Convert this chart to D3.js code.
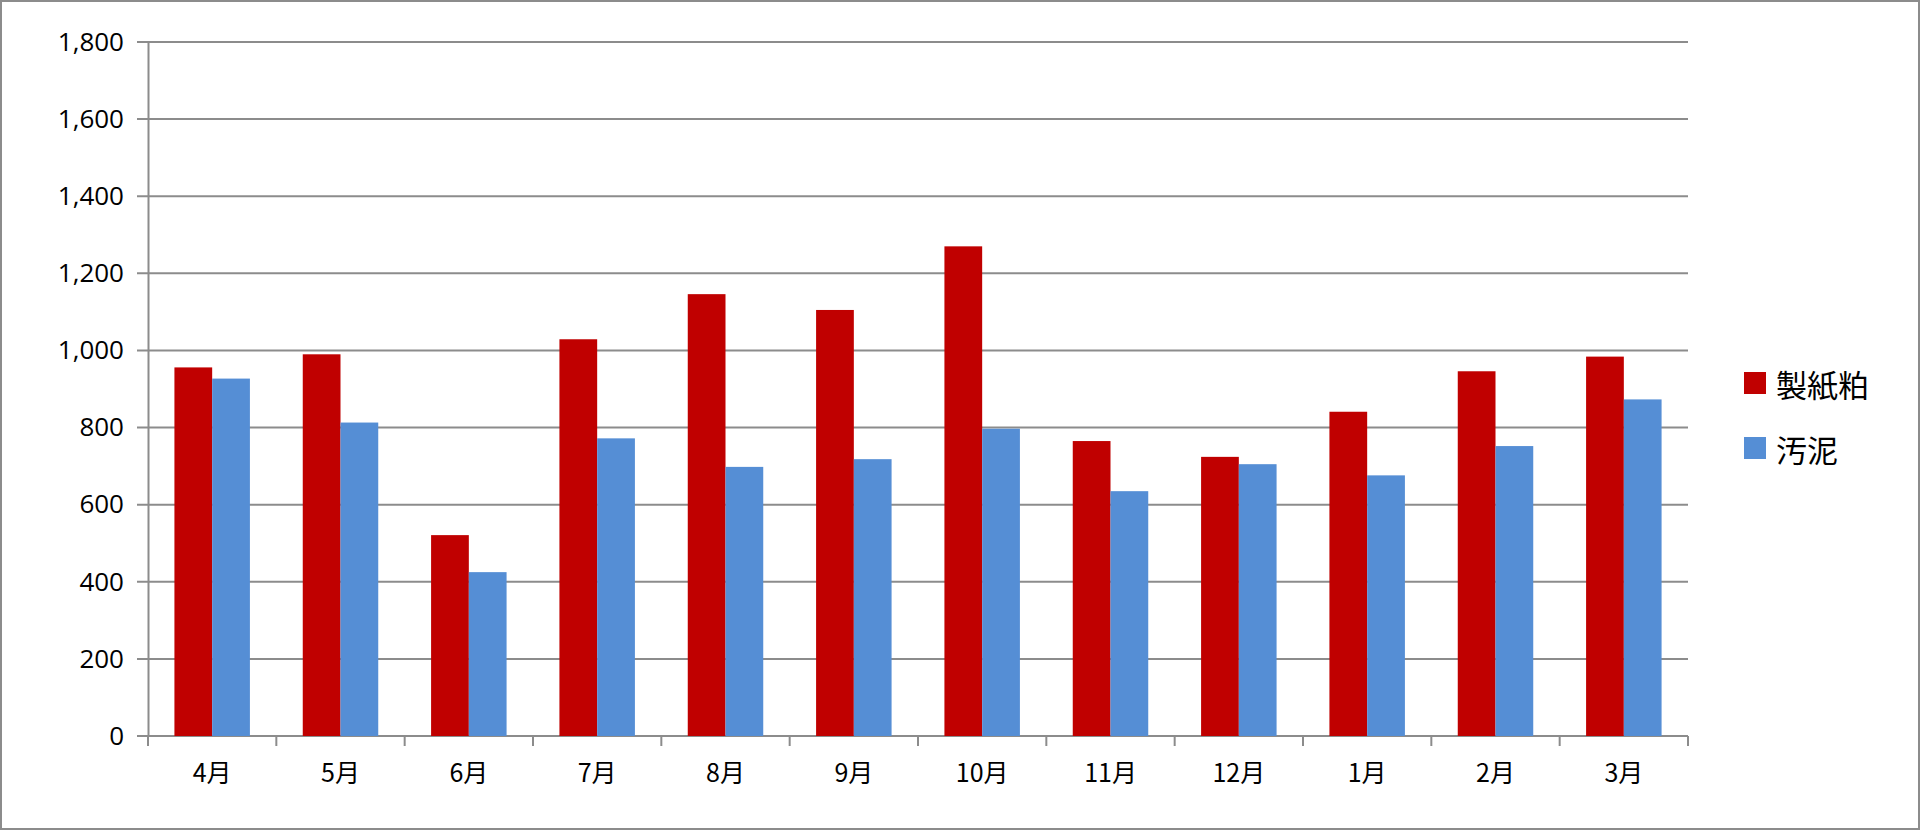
<!DOCTYPE html>
<html>
<head>
<meta charset="utf-8">
<script src="https://cdn.jsdelivr.net/npm/d3@7"></script>
<style>
  body { margin: 0; background: #fff; }
  svg { display: block; }
</style>
</head>
<body>
<svg id="chart" width="1920" height="830"></svg>
<script>
// data
const months = ["4月", "5月", "6月", "7月", "8月", "9月", "10月", "11月", "12月", "1月", "2月", "3月"];
const seriesNames = ["製紙粕", "汚泥"];
const paper = [956, 990, 521, 1029, 1146, 1105, 1270, 765, 724, 841, 946, 984];
const sludge = [927, 813, 425, 772, 698, 718, 797, 635, 705, 676, 752, 873];
const yTicks = [0, 200, 400, 600, 800, 1000, 1200, 1400, 1600, 1800];
const colors = ["#C00000", "#558ED5"];

const svg = d3.select("#chart");
const margin = {top: 42, left: 148, right: 232, bottom: 94};
const W = 1920, H = 830;
const plotW = W - margin.left - margin.right;
const plotH = H - margin.top - margin.bottom;

// outer frame
svg.append("rect")
    .attr("x", 1).attr("y", 1)
    .attr("width", W - 2).attr("height", H - 2)
    .attr("fill", "none").attr("stroke", "#8c8c8c").attr("stroke-width", 2);

const G = svg.append("g").attr("transform", "translate(" + margin.left + "," + margin.top + ")");

const x = d3.scaleBand().domain(months).range([0, plotW]);
const x1 = d3.scaleBand().domain(seriesNames).range([0, x.bandwidth()]).paddingOuter(0.7);
const y = d3.scaleLinear().domain([0, 1800]).range([plotH, 0]);

// gridlines
G.append("g")
    .selectAll("line")
    .data(yTicks)
    .enter()
    .append("line")
    .attr("x1", -11).attr("x2", plotW)
    .attr("y1", d => y(d)).attr("y2", d => y(d))
    .attr("stroke", "#8c8c8c").attr("stroke-width", 2);

// bars
const rows = months.map((m, i) => ({key: m, values: [paper[i], sludge[i]]}));
const groups = G.append("g")
    .selectAll(".grp")
    .data(rows)
    .enter()
    .append("g")
    .attr("transform", d => "translate(" + x(d.key) + ",0)");

groups.selectAll("rect")
    .data(d => d.values.map((v, j) => ({name: seriesNames[j], value: v, j: j})))
    .enter()
    .append("rect")
    .attr("x", d => x1(d.name))
    .attr("width", x1.bandwidth())
    .attr("y", d => y(d.value))
    .attr("height", d => plotH - y(d.value))
    .attr("fill", d => colors[d.j]);

// y axis
const yAxis = G.append("g")
    .call(d3.axisLeft(y).tickValues(yTicks).tickSize(0).tickPadding(24).tickFormat(d3.format(",")));
yAxis.select(".domain").attr("stroke", "#8c8c8c").attr("stroke-width", 2);
yAxis.selectAll("text")
    .style("font-family", "'Open Sans', 'Noto Sans', sans-serif")
    .style("font-size", "26px").attr("fill", "#000");

// x axis
const xAxis = G.append("g")
    .attr("transform", "translate(0," + plotH + ")")
    .call(d3.axisBottom(x).tickSize(0).tickPadding(28));
xAxis.select(".domain").remove();
xAxis.selectAll("text")
    .style("font-family", "'Noto Sans CJK JP', sans-serif")
    .style("font-size", "25px").attr("fill", "#000");
G.append("g")
    .selectAll("line")
    .data(d3.range(months.length + 1))
    .enter()
    .append("line")
    .attr("x1", i => i * x.step()).attr("x2", i => i * x.step())
    .attr("y1", plotH).attr("y2", plotH + 10)
    .attr("stroke", "#8c8c8c").attr("stroke-width", 2);

// legend
const legend = svg.append("g").attr("transform", "translate(1744,372)");
const items = legend.selectAll("g")
    .data(seriesNames)
    .enter()
    .append("g")
    .attr("transform", (d, i) => "translate(0," + i * 65 + ")");
items.append("rect")
    .attr("width", 22).attr("height", 22)
    .attr("fill", (d, i) => colors[i]);
items.append("text")
    .attr("x", 32).attr("y", 11)
    .attr("dominant-baseline", "central")
    .style("font-family", "'Noto Sans CJK JP', sans-serif")
    .style("font-size", "31px")
    .text(d => d);
</script>
</body>
</html>
